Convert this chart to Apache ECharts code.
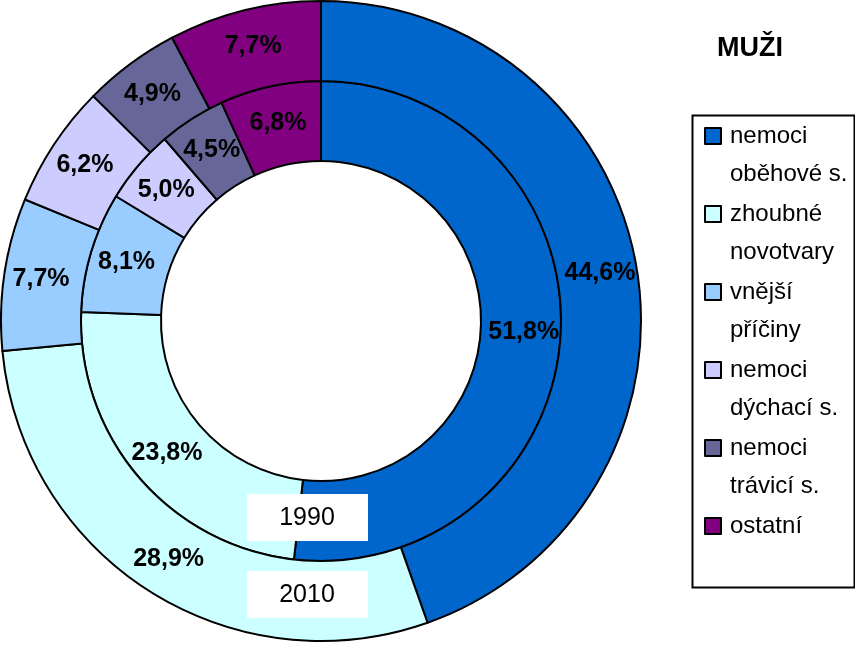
<!DOCTYPE html>
<html>
<head>
<meta charset="utf-8">
<script src="https://cdn.jsdelivr.net/npm/echarts@6/dist/echarts.min.js"></script>
<style>
  html, body { margin: 0; padding: 0; background: #fff; }
  #chart { width: 855px; height: 646px; }
</style>
</head>
<body>
<div id="chart"></div>
<script>
// kategorie příčin úmrtí
const categories = ['nemoci\noběhové s.', 'zhoubné\nnovotvary', 'vnější\npříčiny', 'nemoci\ndýchací s.', 'nemoci\ntrávicí s.', 'ostatní']
const colors = ['#0066CC', '#CCFFFF', '#99CCFF', '#CCCCFF', '#666699', '#800080']
// podíly v %
const values1990 = [51.8, 23.8, 8.1, 5.0, 4.5, 6.8]
const values2010 = [44.6, 28.9, 7.7, 6.2, 4.9, 7.7]
const years = ['1990', '2010']

const font = "'Liberation Sans', Arial, sans-serif"

const toData = (vals) => vals.map((v, i) => ({ name: categories[i], value: v }))
const fmt = (p) => p.value.toFixed(1).replace('.', ',') + '%'

const ringStyle = {
  type: 'pie',
  center: [321, 321],
  startAngle: 90,
  clockwise: true,
  animation: false,
  silent: true,
  itemStyle: { borderColor: '#000', borderWidth: 2 },
  label: {
    show: true,
    position: 'inside',
    formatter: fmt,
    color: '#000',
    fontFamily: font,
    fontWeight: 'bold',
    fontSize: 25
  },
  labelLine: { show: false },
  emphasis: { disabled: true }
}

const chart = echarts.init(document.getElementById('chart'))
chart.setOption({
  color: colors,
  title: {
    text: 'MUŽI',
    left: 717,
    top: 35,
    padding: 0,
    textStyle: { fontFamily: font, fontWeight: 'bold', fontSize: 27, color: '#000' }
  },
  legend: {
    orient: 'vertical',
    left: 704,
    top: 79,
    padding: 0,
    icon: 'rect',
    itemWidth: 16,
    itemHeight: 16,
    itemGap: -36,
    selectedMode: false,
    itemStyle: { borderColor: '#000', borderWidth: 2 },
    // prázdný řádek navíc, aby ikonka seděla u prvního řádku
    formatter: (name) => name.includes('\n') ? '\n' + name : '\n' + name + '\n',
    textStyle: {
      fontFamily: font,
      fontSize: 24,
      lineHeight: 38,
      color: '#000',
      padding: [0, 0, 0, 4]
    },
    data: categories
  },
  graphic: [
    {
      type: 'rect',
      left: 690,
      top: 113,
      shape: { width: 162, height: 472 },
      style: { fill: 'none', stroke: '#000', lineWidth: 2 }
    },
    ...years.map((y, i) => ({
      type: 'group',
      left: 247,
      top: [494, 571][i],
      children: [
        { type: 'rect', z: 100, shape: { width: 121, height: 47 }, style: { fill: '#fff' } },
        {
          type: 'text',
          z: 101,
          x: 60,
          y: 24,
          style: { text: y, fontFamily: font, fontSize: 25, fill: '#000', align: 'center', verticalAlign: 'middle' }
        }
      ]
    }))
  ],
  series: [
    Object.assign({}, ringStyle, { name: '1990', radius: [160, 240], data: toData(values1990) }),
    Object.assign({}, ringStyle, { name: '2010', radius: [240, 320], data: toData(values2010) })
  ]
})
</script>
</body>
</html>
